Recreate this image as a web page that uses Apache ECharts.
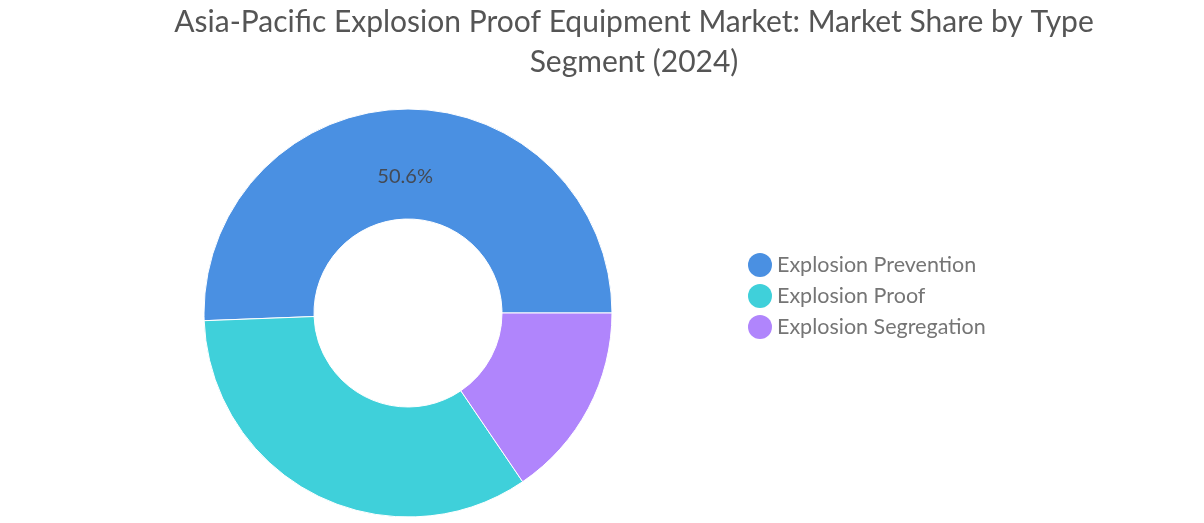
<!DOCTYPE html>
<html>
<head>
<meta charset="utf-8">
<script src="https://cdn.jsdelivr.net/npm/echarts@6/dist/echarts.min.js"></script>
<style>html,body{margin:0;padding:0;background:#fff}#c{width:1204px;height:523px}</style>
</head>
<body>
<div id="c"></div>
<script>
const titleText = 'Asia-Pacific Explosion Proof Equipment Market: Market Share by Type\nSegment (2024)';
const categories = ['Explosion Prevention', 'Explosion Proof', 'Explosion Segregation'];
const shares = [50.6, 33.9, 15.5];
const colors = ['#4a90e2', '#3fd0da', '#b085fc'];
const labelledCategories = ['Explosion Prevention'];

const chart = echarts.init(document.getElementById('c'));
chart.setOption({
  animation: false,
  color: colors,
  title: {
    text: titleText,
    left: 634,
    top: 2,
    padding: 0,
    textAlign: 'center',
    textStyle: { fontFamily: 'Lato', fontSize: 30, fontWeight: 'normal', color: '#555555', lineHeight: 40 }
  },
  legend: {
    orient: 'vertical',
    left: 748,
    top: 253,
    padding: 0,
    itemGap: 7,
    itemWidth: 24,
    itemHeight: 24,
    icon: 'circle',
    data: categories,
    itemStyle: { borderWidth: 0 },
    textStyle: { fontFamily: 'Lato', fontSize: 21.5, color: '#757575', lineHeight: 24 }
  },
  series: [{
    type: 'pie',
    center: [408, 313],
    radius: [94, 204],
    startAngle: 0,
    clockwise: false,
    itemStyle: { borderColor: '#ffffff', borderWidth: 1 },
    label: {
      position: 'inside',
      formatter: p => labelledCategories.includes(p.name) ? '{s|}\n{v|' + p.value + '%}' : '',
      rich: {
        s: { fontSize: 20, lineHeight: 32 },
        v: { fontFamily: 'Lato', fontSize: 20, lineHeight: 24, color: '#444a55' }
      }
    },
    labelLine: { show: false },
    emphasis: { disabled: true },
    data: categories.map((n, i) => ({ name: n, value: shares[i] }))
  }]
});
</script>
</body>
</html>
